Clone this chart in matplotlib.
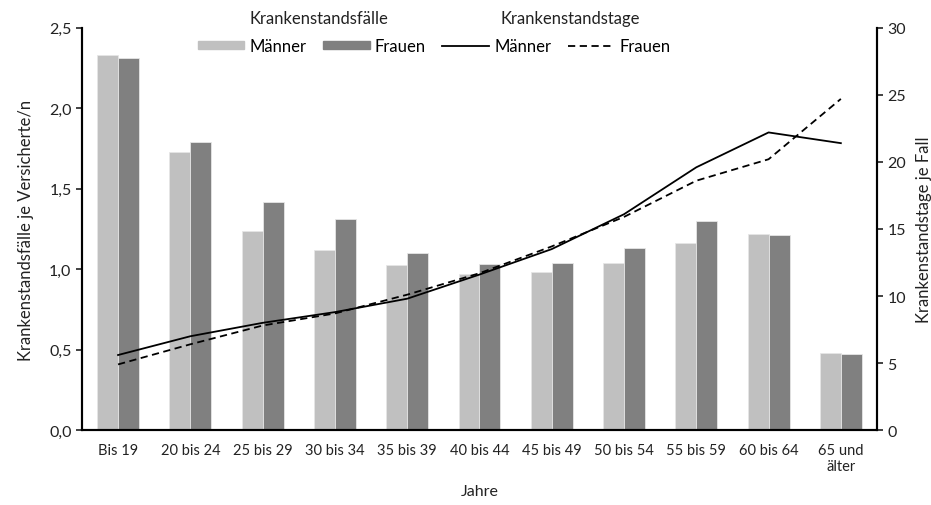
import numpy as np
import matplotlib.pyplot as plt
from matplotlib.patches import Patch
from matplotlib.lines import Line2D

plt.rcParams['font.family'] = ['Lato', 'DejaVu Sans']

# Altersgruppen
jahre = ['Bis 19', '20 bis 24', '25 bis 29', '30 bis 34', '35 bis 39', '40 bis 44',
         '45 bis 49', '50 bis 54', '55 bis 59', '60 bis 64', '65 und\nälter']

# Krankenstandsfälle je Versicherte/n
faelle_m = [2.33, 1.73, 1.24, 1.12, 1.025, 0.97, 0.98, 1.04, 1.16, 1.22, 0.48]
faelle_f = [2.31, 1.79, 1.42, 1.31, 1.10, 1.03, 1.04, 1.13, 1.30, 1.21, 0.47]

# Krankenstandstage je Fall
tage_m = [5.6, 7.0, 8.0, 8.8, 9.8, 11.6, 13.5, 16.1, 19.6, 22.2, 21.4]
tage_f = [4.9, 6.4, 7.8, 8.7, 10.1, 11.7, 13.7, 15.9, 18.6, 20.2, 24.7]

x = np.arange(len(jahre))
w = 0.29
txt = '#222222'

fig = plt.figure(figsize=(9.31, 5.06), dpi=100)
ax = fig.add_axes([0.088, 0.148, 0.854, 0.795])
ax.bar(x - w/2, faelle_m, w, color='#c0c0c0', edgecolor='#e6e6e6', linewidth=0.6)
ax.bar(x + w/2, faelle_f, w, color='#808080', edgecolor='#e6e6e6', linewidth=0.6)
ax.set_xlim(-0.5, len(jahre) - 0.5)
ax.set_ylim(0, 2.5)
ax.set_yticks(np.arange(0, 2.51, 0.5))
ax.set_yticklabels([f'{v:.1f}'.replace('.', ',') for v in np.arange(0, 2.51, 0.5)])
ax.set_xticks(x)
ax.set_xticklabels(jahre)
ax.tick_params(axis='x', length=0, pad=9, labelsize=10.5, colors=txt)
ax.tick_params(axis='y', length=4, width=1.2, labelsize=11.5, colors=txt)
ax.set_ylabel('Krankenstandsfälle je Versicherte/n', fontsize=12, color=txt, labelpad=11)
ax.set_xlabel('Jahre', fontsize=11.5, color=txt, labelpad=8)
ax.spines['top'].set_visible(False)
for s in ['left', 'bottom', 'right']:
    ax.spines[s].set_linewidth(1.5)

ax2 = ax.twinx()
ax2.plot(x, tage_m, color='black', linewidth=1.3)
ax2.plot(x, tage_f, color='black', linewidth=1.3, linestyle=(0, (4, 2.5)))
ax2.set_ylim(0, 30)
ax2.set_yticks(range(0, 31, 5))
ax2.tick_params(axis='y', length=4, width=1.2, labelsize=11.5, colors=txt)
ax2.set_ylabel('Krankenstandstage je Fall', fontsize=12, color=txt, labelpad=7)
ax2.spines['top'].set_visible(False)
for s in ['left', 'bottom', 'right']:
    ax2.spines[s].set_linewidth(1.5)

handles = [Patch(color='#c0c0c0'), Patch(color='#808080'),
           Line2D([], [], color='black', linewidth=1.3),
           Line2D([], [], color='black', linewidth=1.3, linestyle=(0, (4, 2.5)))]
labels = ['Männer', 'Frauen', 'Männer', 'Frauen']
ax2.legend(handles, labels, ncol=4, loc='center', bbox_to_anchor=(0.443, 0.955),
           frameon=False, fontsize=12, handlelength=2.8, handleheight=0.35,
           handletextpad=0.3, columnspacing=1.0, borderaxespad=0)

fig.text(0.343, 0.962, 'Krankenstandsfälle', ha='center', va='center', fontsize=12, color=txt)
fig.text(0.612, 0.962, 'Krankenstandstage', ha='center', va='center', fontsize=12, color=txt)

fig.savefig('out.png', dpi=100)
